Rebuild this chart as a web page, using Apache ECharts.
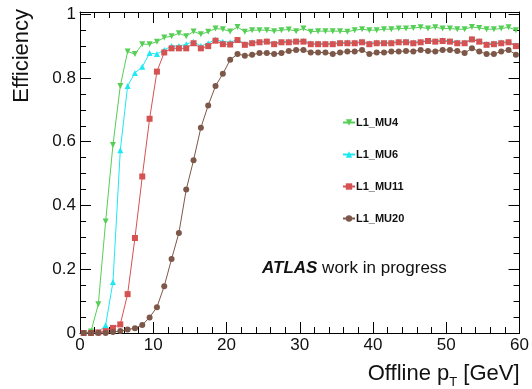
<!DOCTYPE html>
<html>
<head>
<meta charset="utf-8">
<script src="https://cdn.jsdelivr.net/npm/echarts@6/dist/echarts.min.js"></script>
<style>
  html, body { margin: 0; padding: 0; background: #fff; }
  #main { width: 532px; height: 389px; }
</style>
</head>
<body>
<div id="main"></div>
<script>
'use strict';
// bin centres in offline pT (1 GeV bins)
var ptBins = [];
for (var i = 0; i < 60; i++) { ptBins.push(i + 0.5); }

var effMU4 = [0, 0.005, 0.09, 0.35, 0.59, 0.775, 0.883, 0.875, 0.906, 0.906,
  0.914, 0.927, 0.931, 0.94, 0.931, 0.946, 0.937, 0.945, 0.955, 0.953,
  0.946, 0.96, 0.945, 0.95, 0.95, 0.95, 0.947, 0.95, 0.952, 0.947,
  0.955, 0.945, 0.947, 0.947, 0.947, 0.947, 0.945, 0.95, 0.953, 0.95,
  0.95, 0.953, 0.953, 0.955, 0.955, 0.957, 0.959, 0.955, 0.959, 0.955,
  0.955, 0.953, 0.953, 0.96, 0.957, 0.953, 0.953, 0.955, 0.959, 0.95];

var effMU6 = [0, 0, 0.003, 0.024, 0.16, 0.573, 0.775, 0.816, 0.835, 0.878,
  0.875, 0.888, 0.9, 0.9, 0.906, 0.914, 0.9, 0.909, 0.921, 0.914,
  0.912, 0.921, 0.907, 0.912, 0.914, 0.916, 0.909, 0.914, 0.915, 0.916,
  0.917, 0.909, 0.909, 0.908, 0.909, 0.911, 0.912, 0.911, 0.914, 0.909,
  0.912, 0.911, 0.912, 0.914, 0.915, 0.912, 0.914, 0.918, 0.916, 0.918,
  0.917, 0.912, 0.911, 0.923, 0.916, 0.907, 0.909, 0.912, 0.914, 0.903];

var effMU11 = [0, 0, 0.002, 0.006, 0.016, 0.027, 0.122, 0.298, 0.491, 0.672,
  0.82, 0.88, 0.893, 0.893, 0.893, 0.909, 0.893, 0.9, 0.917, 0.906,
  0.905, 0.919, 0.904, 0.909, 0.912, 0.914, 0.906, 0.912, 0.912, 0.914,
  0.914, 0.906, 0.906, 0.906, 0.906, 0.909, 0.909, 0.909, 0.912, 0.906,
  0.909, 0.909, 0.909, 0.912, 0.912, 0.909, 0.912, 0.916, 0.914, 0.916,
  0.914, 0.909, 0.909, 0.921, 0.914, 0.904, 0.906, 0.909, 0.912, 0.9];

var effMU20 = [0, 0, 0, 0, 0.003, 0.006, 0.011, 0.015, 0.025, 0.049,
  0.081, 0.147, 0.232, 0.314, 0.45, 0.542, 0.644, 0.714, 0.775, 0.813,
  0.857, 0.875, 0.87, 0.873, 0.878, 0.878, 0.875, 0.878, 0.885, 0.888,
  0.888, 0.88, 0.88, 0.88, 0.875, 0.88, 0.883, 0.883, 0.888, 0.875,
  0.88, 0.88, 0.883, 0.883, 0.885, 0.883, 0.888, 0.885, 0.883, 0.888,
  0.888, 0.885, 0.878, 0.893, 0.883, 0.875, 0.875, 0.883, 0.888, 0.873];

var seriesNames = ['L1_MU4', 'L1_MU6', 'L1_MU11', 'L1_MU20'];

function pairs(vals) {
  return vals.map(function(v, k) { return [ptBins[k], v]; });
}

var chart = echarts.init(document.getElementById('main'), null, { renderer: 'canvas' });
var FONT = '"Liberation Sans", Arial, sans-serif';

// frame axis: line + inward ticks
function frameAxis(pos, min, max, interval, minorSplit, showLabel) {
  return {
    type: 'value',
    position: pos,
    min: min,
    max: max,
    interval: interval,
    axisLine: { show: true, onZero: false, lineStyle: { color: '#000', width: 1, opacity: 1 } },
    axisTick: { show: true, inside: true, length: 11, lineStyle: { color: '#000', width: 1, opacity: 1 } },
    minorTick: { show: true, splitNumber: minorSplit, length: 6, lineStyle: { color: '#000', width: 1, opacity: 1 } },
    splitLine: { show: false },
    minorSplitLine: { show: false },
    axisLabel: { show: showLabel, fontSize: 17, color: '#111', margin: 4, fontFamily: FONT }
  };
}

function mkLine(name, vals, color, symbol, rot) {
  return {
    name: name,
    type: 'line',
    data: pairs(vals),
    symbol: symbol,
    symbolSize: 6,
    symbolRotate: rot || 0,
    showAllSymbol: true,
    color: color,
    lineStyle: { width: 1, color: color },
    itemStyle: { color: color },
    emphasis: { disabled: true },
    z: 3
  };
}

var xBottom = frameAxis('bottom', 0, 60, 10, 5, true);
xBottom.name = 'Offline p{s|T} [GeV]';
xBottom.nameLocation = 'end';
xBottom.nameGap = 0;
xBottom.nameTextStyle = {
  fontSize: 22, color: '#111', fontFamily: FONT,
  align: 'right', verticalAlign: 'top', padding: [26, 0, 0, 0],
  rich: { s: { fontSize: 13, color: '#111', fontFamily: FONT, padding: [17, 0, 0, 0] } }
};
var xTop = frameAxis('top', 0, 60, 10, 5, false);

// frame top sits a touch above efficiency = 1
var yLeft = frameAxis('left', 0, 1.007, 0.2, 4, true);
yLeft.axisLabel.showMaxLabel = false;
yLeft.axisLabel.formatter = function(v) { return (v === 0 || v === 1) ? String(v) : v.toFixed(1); };
var yRight = frameAxis('right', 0, 1.007, 0.2, 4, false);

var option = {
  animation: false,
  textStyle: { fontFamily: FONT },
  grid: { left: 80, right: 11, top: 12, bottom: 52 },
  xAxis: [xBottom, xTop],
  yAxis: [yLeft, yRight],
  legend: {
    data: seriesNames,
    orient: 'vertical',
    left: 342,
    top: 117,
    padding: 0,
    itemGap: 21,
    itemWidth: 12,
    itemHeight: 8,
    selectedMode: false,
    textStyle: { fontSize: 11, fontWeight: 'bold', color: '#111', fontFamily: FONT, padding: [0, 0, 0, -4] }
  },
  graphic: [
    {
      type: 'text', x: 22, y: 9, rotation: Math.PI / 2,
      style: { text: 'Efficiency', font: '22px ' + FONT, fill: '#111', align: 'right', verticalAlign: 'middle' }
    },
    {
      type: 'text', x: 262, y: 268,
      style: {
        text: '{a|ATLAS} work in progress',
        font: '17px ' + FONT, fill: '#111', verticalAlign: 'middle',
        rich: { a: { fontStyle: 'italic', fontWeight: 'bold', fontSize: 17, fontFamily: FONT, fill: '#111' } }
      }
    }
  ],
  series: [
    mkLine(seriesNames[0], effMU4, '#55cf55', 'triangle', 180),
    mkLine(seriesNames[1], effMU6, '#1ee8f2', 'triangle', 0),
    mkLine(seriesNames[2], effMU11, '#d65252', 'rect', 0),
    mkLine(seriesNames[3], effMU20, '#7d5849', 'circle', 0)
  ]
};

chart.setOption(option);
</script>
</body>
</html>
